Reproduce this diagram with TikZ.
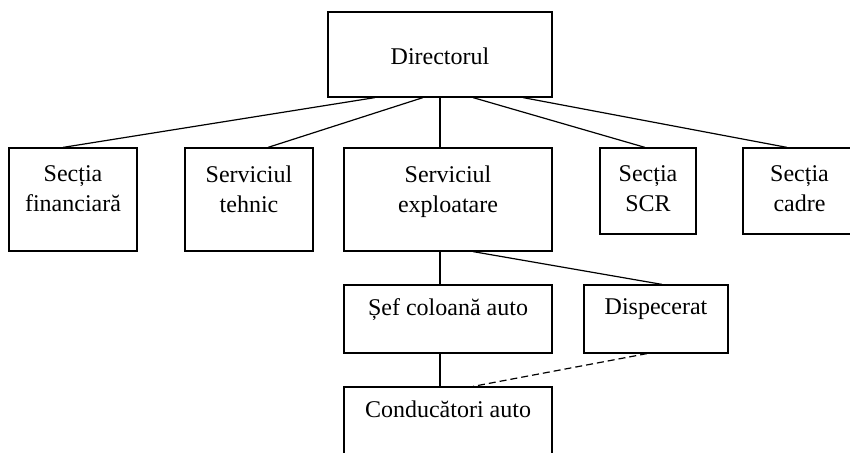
\documentclass[tikz,border=0pt]{standalone}
\usepackage{fontspec}
\setmainfont{Liberation Serif}
\usepackage{tikz}
\usetikzlibrary{calc}

\begin{document}
\begin{tikzpicture}[x=0.5pt, y=-0.5pt, line width=0.6pt,
  box/.style={draw, minimum width=#1, inner sep=0pt},
  lbl/.style={anchor=north, align=center, inner sep=0pt,
    font=\fontsize{12}{15}\selectfont},
  link/.style={line width=0.6pt}]
%%%%% Frame %%%%%
\useasboundingbox (0,0) rectangle (850,453);
\clip (0,0) rectangle (850,453);
%%%%% Boxes %%%%%
\node[box=112pt, minimum height=42.5pt,
  label={[lbl, name=dir-t, yshift=-17.8pt]north:Directorul}] (dir) at (440,54.5) {};
\node[box=64pt, minimum height=51.5pt,
  label={[lbl, name=fin-t, yshift=-8.8pt]north:Secția\\financiară}] (fin) at (73,199.5) {};
\node[box=64pt, minimum height=51.5pt,
  label={[lbl, name=teh-t, yshift=-8.8pt]north:Serviciul\\tehnic}] (teh) at (249,199.5) {};
\node[box=104pt, minimum height=51.5pt,
  label={[lbl, name=expl-t, yshift=-8.8pt]north:Serviciul\\exploatare}] (expl) at (448,199.5) {};
\node[box=48pt, minimum height=43pt,
  label={[lbl, name=scr-t, yshift=-8.8pt]north:Secția\\SCR}] (scr) at (648,191) {};
\node[box=56.5pt, minimum height=43pt,
  label={[lbl, name=cad-t, yshift=-8.8pt]north:Secția\\cadre}] (cad) at (799.5,191) {};
\node[box=104pt, minimum height=34pt,
  label={[lbl, name=sef-t, yshift=-6.8pt]north:Șef coloană auto}] (sef) at (448,319) {};
\node[box=72pt, minimum height=34pt,
  label={[lbl, name=disp-t, yshift=-6.8pt]north:Dispecerat}] (disp) at (656,319) {};
\node[box=104pt, minimum height=41pt,
  label={[lbl, name=cond-t, yshift=-6.8pt]north:Conducători auto}] (cond) at (448,428) {};
%%%%% Links %%%%%
\foreach \a/\n/\b in {-65/fin/-10, -17/teh/19, 0/expl/-8, 33/scr/-3, 83/cad/-12.5}{
\draw[link] ($(dir.south)+(\a,0)$) -- ($(\n.north)+(\b,0)$);
}
\draw[link] ($(expl.south)+(-8,0)$) -- ($(sef.north)+(-8,0)$);
\draw[link] ($(expl.south)+(25,0)$) -- ($(disp.north)+(6,0)$);
\draw[link] ($(sef.south)+(-8,0)$) -- ($(cond.north)+(-8,0)$);
\draw[link, dash pattern=on 3.5pt off 2pt] ($(disp.south)+(-9,0)$) -- ($(cond.north)+(25,0)$);
\end{tikzpicture}
\end{document}
